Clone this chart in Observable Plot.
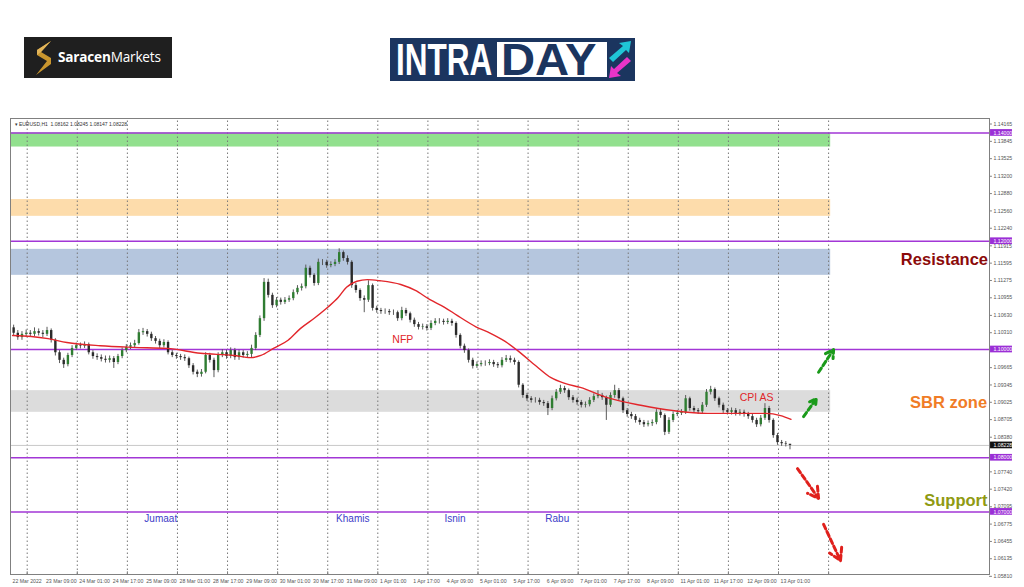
<!DOCTYPE html>
<html><head><meta charset="utf-8">
<script src="https://cdn.jsdelivr.net/npm/d3@7"></script>
<script src="https://cdn.jsdelivr.net/npm/@observablehq/plot@0.6"></script>
<style>
html,body{margin:0;padding:0;background:#fff;}
body{width:1024px;height:587px;overflow:hidden;position:relative;font-family:"DejaVu Sans",sans-serif;}
#sm{position:absolute;left:24px;top:37px;width:148px;height:41px;background:#1f1f1f;}
#sm .t{position:absolute;left:34px;top:11px;color:#fff;font-family:"Open Sans",sans-serif;font-size:13.6px;line-height:18px;white-space:nowrap;letter-spacing:-0.2px}
#sm b{font-weight:700}
#idb{position:absolute;left:390px;top:38px;width:245px;height:43px;background:#1b355f;}
#idb .a{position:absolute;left:6px;top:0px;width:100px;color:#fff;font-family:"Liberation Sans",sans-serif;font-weight:700;font-size:45px;line-height:44px;transform:scaleX(0.7);transform-origin:0 0;white-space:nowrap}
#idb .box{position:absolute;left:107px;top:4px;width:110px;height:35px;background:#fff;}
#idb .d{position:absolute;left:111px;top:0px;width:100px;color:#1b355f;font-family:"Liberation Sans",sans-serif;font-weight:700;font-size:45px;line-height:44px;transform:scaleX(1.05);transform-origin:0 0;white-space:nowrap}
#chart{position:absolute;left:0;top:110px;width:1024px;height:477px}
</style></head>
<body>
<div id="sm"><svg width="24" height="36" viewBox="0 0 24 36" style="position:absolute;left:8px;top:3px"><path d="M19 1 L5 10 L5 15 L15 21 L4 35 L19 24 L19 18 L9 12 Z" fill="#c9962e"/><path d="M19 1 L9 12 L5 15 L5 10 Z" fill="#e2b55a"/></svg><div class="t"><b>Saracen</b>Markets</div></div>
<div id="idb"><div class="a">INTRA</div><div class="box"></div><div class="d">DAY</div>
<svg width="30" height="43" viewBox="0 0 30 43" style="position:absolute;left:215px;top:0"><path d="M4 20 L18 8 L14 5 L26 3 L24 15 L21 12 L8 24 Z" fill="#1fc6d6"/><path d="M26 23 L12 35 L16 38 L4 40 L6 28 L9 31 L22 19 Z" fill="#e834c8"/></svg></div>
<div id="chart"></div>
<script>
// ---- data (EURUSD H1, two hourly bars per candle) ----
const firstOpen = 1.1040;
const closes = [1.1030,1.1022,1.1028,1.1030,1.1028,1.1033,1.1030,1.1028,1.1035,1.1017,1.0994,1.0980,1.0972,1.0989,1.1002,1.1007,1.1006,1.1009,1.0994,1.0987,1.0985,1.0982,1.0980,1.0983,1.0976,1.0987,1.0998,1.1004,1.1007,1.1011,1.1031,1.1033,1.1028,1.1020,1.1015,1.1007,1.1013,1.0994,1.0989,1.0987,1.0985,1.0983,1.0970,1.0958,1.0954,1.0958,1.0989,1.0980,1.0961,1.0989,1.0994,1.0987,1.0998,1.0985,1.0994,1.0989,1.0991,1.1002,1.1026,1.1057,1.1124,1.1100,1.1081,1.1091,1.1087,1.1091,1.1094,1.1105,1.1113,1.1116,1.1150,1.1137,1.1122,1.1161,1.1161,1.1155,1.1157,1.1161,1.1179,1.1168,1.1161,1.1118,1.1109,1.1094,1.1091,1.1118,1.1076,1.1072,1.1070,1.1070,1.1068,1.1068,1.1057,1.1072,1.1066,1.1054,1.1046,1.1041,1.1042,1.1039,1.1048,1.1052,1.1052,1.1050,1.1052,1.1048,1.1026,1.1006,1.0998,1.0980,1.0969,1.0972,1.0974,1.0974,1.0976,1.0972,1.0970,1.0980,1.0983,1.0980,1.0976,1.0934,1.0915,1.0909,1.0906,1.0906,1.0902,1.0900,1.0891,1.0909,1.0921,1.0928,1.0924,1.0911,1.0906,1.0902,1.0897,1.0898,1.0906,1.0913,1.0915,1.0911,1.0897,1.0915,1.0924,1.0909,1.0887,1.0880,1.0876,1.0869,1.0865,1.0861,1.0863,1.0865,1.0884,1.0878,1.0847,1.0869,1.0880,1.0882,1.0884,1.0909,1.0891,1.0887,1.0885,1.0897,1.0921,1.0926,1.0909,1.0897,1.0887,1.0884,1.0887,1.0882,1.0884,1.0880,1.0876,1.0869,1.0861,1.0873,1.0891,1.0869,1.0841,1.0828,1.0826,1.0825,1.08228];
const highs = [1.1045,1.1035,1.1033,1.1036,1.1035,1.1040,1.1038,1.1035,1.1041,1.1038,1.1020,1.0998,1.0984,1.0993,1.1007,1.1012,1.1012,1.1014,1.1012,1.0998,1.0992,1.0990,1.0988,1.0988,1.0987,1.0991,1.1003,1.1009,1.1012,1.1017,1.1037,1.1039,1.1037,1.1032,1.1024,1.1019,1.1018,1.1016,1.0998,1.0993,1.0991,1.0990,1.0986,1.0974,1.0962,1.0963,1.0994,1.0993,1.0984,1.0994,1.1000,1.0999,1.1003,1.1002,1.0999,1.0998,1.0996,1.1008,1.1031,1.1062,1.1131,1.1130,1.1104,1.1096,1.1095,1.1096,1.1099,1.1110,1.1118,1.1121,1.1156,1.1154,1.1140,1.1167,1.1166,1.1165,1.1162,1.1166,1.1186,1.1182,1.1173,1.1164,1.1122,1.1112,1.1099,1.1127,1.1121,1.1080,1.1076,1.1075,1.1074,1.1073,1.1071,1.1078,1.1076,1.1069,1.1058,1.1050,1.1047,1.1046,1.1053,1.1057,1.1057,1.1056,1.1057,1.1056,1.1051,1.1029,1.1010,1.1001,1.0984,1.0977,1.0979,1.0979,1.0981,1.0980,1.0976,1.0985,1.0989,1.0988,1.0984,1.0979,1.0937,1.0919,1.0913,1.0911,1.0910,1.0906,1.0904,1.0914,1.0926,1.0934,1.0932,1.0927,1.0915,1.0910,1.0906,1.0903,1.0911,1.0918,1.0924,1.0919,1.0914,1.0920,1.0934,1.0928,1.0912,1.0891,1.0884,1.0880,1.0873,1.0869,1.0868,1.0870,1.0889,1.0890,1.0881,1.0874,1.0885,1.0887,1.0889,1.0915,1.0912,1.0895,1.0891,1.0902,1.0926,1.0932,1.0929,1.0912,1.0901,1.0891,1.0892,1.0891,1.0889,1.0888,1.0884,1.0880,1.0873,1.0878,1.0900,1.0895,1.0872,1.0845,1.0832,1.0830,1.08245];
const lows = [1.1025,1.1017,1.1017,1.1023,1.1023,1.1024,1.1025,1.1022,1.1024,1.1012,1.0988,1.0974,1.0965,1.0968,1.0985,1.0998,1.1001,1.1002,1.0990,1.0982,1.0980,1.0977,1.0975,1.0975,1.0965,1.0972,1.0983,1.0994,1.1000,1.1002,1.1008,1.1026,1.1023,1.1015,1.1010,1.1002,1.1003,1.0990,1.0985,1.0982,1.0980,1.0978,1.0965,1.0953,1.0948,1.0949,1.0955,1.0975,1.0948,1.0957,1.0985,1.0982,1.0983,1.0980,1.0980,1.0984,1.0984,1.0985,1.0998,1.1022,1.1052,1.1095,1.1076,1.1077,1.1082,1.1083,1.1087,1.1090,1.1101,1.1108,1.1112,1.1132,1.1117,1.1118,1.1155,1.1150,1.1151,1.1153,1.1157,1.1163,1.1156,1.1113,1.1104,1.1089,1.1068,1.1087,1.1071,1.1067,1.1065,1.1065,1.1063,1.1063,1.1052,1.1053,1.1061,1.1049,1.1041,1.1036,1.1036,1.1034,1.1035,1.1044,1.1047,1.1045,1.1046,1.1043,1.1021,1.1001,1.0993,1.0975,1.0964,1.0965,1.0968,1.0969,1.0970,1.0967,1.0965,1.0966,1.0976,1.0975,1.0971,1.0929,1.0910,1.0904,1.0901,1.0901,1.0897,1.0895,1.0878,1.0887,1.0905,1.0917,1.0919,1.0906,1.0901,1.0897,1.0892,1.0892,1.0894,1.0902,1.0909,1.0906,1.0869,1.0893,1.0910,1.0904,1.0882,1.0875,1.0871,1.0864,1.0860,1.0856,1.0857,1.0858,1.0861,1.0873,1.0841,1.0843,1.0865,1.0876,1.0878,1.0880,1.0886,1.0882,1.0880,1.0881,1.0893,1.0916,1.0904,1.0892,1.0882,1.0879,1.0879,1.0877,1.0877,1.0875,1.0871,1.0864,1.0856,1.0857,1.0869,1.0864,1.0836,1.0823,1.0821,1.0820,1.08147];
// 50-period moving average read at bar positions
const maBar = [0,9,17,26,42,58,74,90,106,114,119,125,132,138,145,151,156,160,165,170,176,186,193,200,207,213,222,229,236,242,251,258,265,272,285,301,317,333,349,361,368,373];
const maVal = [1.1026,1.1024,1.1020,1.1013,1.1007,1.1004,1.1002,1.0993,1.0989,1.0985,1.0989,1.1002,1.1017,1.1039,1.1059,1.1078,1.1096,1.1115,1.1126,1.1129,1.1127,1.1120,1.1109,1.1092,1.1078,1.1063,1.1042,1.1030,1.1015,1.0998,1.0969,1.0948,1.0937,1.0930,1.0911,1.0897,1.0887,1.0882,1.0882,1.0882,1.0878,1.0871];
// x-axis labels every 16 bars
const xLabels = ["22 Mar 2022","23 Mar 09:00","24 Mar 01:00","24 Mar 17:00","25 Mar 09:00","28 Mar 01:00","28 Mar 17:00","29 Mar 09:00","30 Mar 01:00","30 Mar 17:00","31 Mar 09:00","1 Apr 01:00","1 Apr 17:00","4 Apr 09:00","5 Apr 01:00","5 Apr 17:00","6 Apr 09:00","7 Apr 01:00","7 Apr 17:00","8 Apr 09:00","11 Apr 01:00","11 Apr 17:00","12 Apr 09:00","13 Apr 01:00"];
const yTicks = [1.14165,1.13845,1.13525,1.13200,1.12880,1.12560,1.12240,1.11915,1.11595,1.11275,1.10955,1.10630,1.10310,1.09665,1.09345,1.09025,1.08705,1.08380,1.07740,1.07420,1.07095,1.06775,1.06455,1.06135,1.05810];
const levels = [1.14000,1.12000,1.10000,1.08000,1.07000];
const lastPrice = 1.08228;
const zoneName = ["green","orange","resistance","sbr"];
const zoneTop = [1.1400,1.1277,1.1185,1.0924];
const zoneBot = [1.1374,1.1246,1.1137,1.0884];
const zoneFill = ["#92e08e","#fddcab","#b5c6de","#dcdcdc"];
const zoneEndBar = 392;
const gridBars = [7,31,55,79,103,127,151,175,199,223,247,271,295,319,343,367,391];
const labelText = ["Resistance","SBR zone","Support"];
const labelBar = [446.5,448.5,452];
const labelPrice = [1.1166,1.0902,1.0721];
const labelColor = ["#8b0a0a","#f07c26","#8f9a12"];
const noteText = ["NFP","CPI AS"];
const noteBar = [187,356.5];
const notePrice = [1.1018,1.0911];
const dayText = ["Jumaat","Khamis","Isnin","Rabu"];
const dayBar = [71,163,212,261];
const dayPrice = 1.0688;
const arrowX1 = [379,386.2,376.1,388.6], arrowY1 = [1.0876,1.0958,1.0780,1.0677];
const arrowX2 = [385.1,393.4,386.2,396.7], arrowY2 = [1.0909,1.1000,1.0725,1.0610];
const arrowColor = ["#1a9a1a","#1a9a1a","#e0201c","#e0201c"];

// ---- build tables ----
const candles = closes.map((c,k)=>({i:2*k+0.5, o:k?closes[k-1]:firstOpen, c, h:highs[k], l:lows[k]}));
const ma = maBar.map((b,j)=>({b, v:maVal[j]}));
const zones = zoneName.map((n,j)=>({n, y1:zoneBot[j], y2:zoneTop[j], fill:zoneFill[j]}));
const xTickBars = xLabels.map((_,j)=>16*j);
const X0 = -1, X1 = 468.1, Y0 = 1.05844, Y1 = 1.14267;
const labelRows = labelText.map((t,j)=>({t, b:labelBar[j], p:labelPrice[j], c:labelColor[j]}));
const noteRows = noteText.map((t,j)=>({t, b:noteBar[j], p:notePrice[j]}));
const dayRows = dayText.map((t,j)=>({t, b:dayBar[j], p:dayPrice}));
const arrowRows = arrowX1.map((x,j)=>({x1:x, y1:arrowY1[j], x2:arrowX2[j], y2:arrowY2[j], c:arrowColor[j]}));
const boxW = 11, boxH = 0.00062;
const axisFont = "Liberation Sans, Arial, sans-serif";

const plotSvg = Plot.plot({
  width:1024, height:477,
  marginTop:8, marginBottom:13, marginLeft:10, marginRight:35,
  style:{background:"transparent", overflow:"visible"},
  x:{type:"linear", domain:[X0,X1], axis:null},
  y:{type:"linear", domain:[Y0,Y1], axis:null},
  marks:[
    Plot.rect(zones,{x1:X0,x2:zoneEndBar,y1:"y1",y2:"y2",fill:"fill"}),
    Plot.ruleX(gridBars,{y1:Y0,y2:Y1,stroke:"#777",strokeDasharray:"1.5,2.5",strokeWidth:1}),
    Plot.ruleY(levels,{x1:X0,x2:X1,stroke:"#a236d6",strokeWidth:1.5}),
    Plot.ruleY([lastPrice],{x1:X0,x2:X1,stroke:"#c8c8c8",strokeWidth:1}),
    Plot.ruleX(candles,{x:"i",y1:"l",y2:"h",stroke:"#5a5a5a",strokeWidth:1}),
    Plot.ruleX(candles,{x:"i",y1:"o",y2:"c",stroke:d=>d.c>=d.o?"#2f7d32":"#2b2b2b",strokeWidth:2.4}),
    Plot.line(ma,{x:"b",y:"v",stroke:"#e2262b",strokeWidth:1.4,curve:"monotone-x"}),
    Plot.frame({stroke:"#808080",strokeWidth:1}),
    // right axis
    Plot.ruleY(yTicks,{x1:X1,x2:X1+1.4,stroke:"#808080"}),
    Plot.text(yTicks,{x:X1,y:d=>d,text:d=>d.toFixed(5),dx:4,textAnchor:"start",fontSize:5.2,fontFamily:axisFont,fill:"#555"}),
    Plot.rect(levels,{x1:X1+0.5,x2:X1+boxW,y1:d=>d-boxH,y2:d=>d+boxH,fill:"#9b2fd6"}),
    Plot.text(levels,{x:X1,y:d=>d,text:d=>d.toFixed(5),dx:4,textAnchor:"start",fontSize:5.2,fontFamily:axisFont,fill:"#fff"}),
    Plot.rect([lastPrice],{x1:X1+0.5,x2:X1+boxW,y1:d=>d-boxH,y2:d=>d+boxH,fill:"#111"}),
    Plot.text([lastPrice],{x:X1,y:d=>d,text:d=>d.toFixed(5),dx:4,textAnchor:"start",fontSize:5.2,fontFamily:axisFont,fill:"#fff"}),
    // bottom axis
    Plot.text(xTickBars,{x:d=>d,y:Y0,text:(d,j)=>xLabels[j],dy:7,textAnchor:"start",fontSize:5.2,fontFamily:axisFont,fill:"#555"}),
    Plot.ruleX(gridBars,{y1:Y0,y2:Y0+0.0005,stroke:"#808080"}),
    // annotations
    Plot.text(["\u25BE EURUSD,H1  1.08162 1.08245 1.08147 1.08228"],{x:X0,y:Y1,dx:4,dy:6,textAnchor:"start",fontSize:5,fontFamily:axisFont,fill:"#333"}),
    Plot.text(labelRows,{x:"b",y:"p",text:"t",fill:"c",fontSize:16.5,fontWeight:"bold",fontFamily:"Liberation Sans, sans-serif"}),
    Plot.text(noteRows,{x:"b",y:"p",text:"t",fill:"#e0262a",fontSize:10.5,fontFamily:"Liberation Sans, sans-serif"}),
    Plot.text(dayRows,{x:"b",y:"p",text:"t",fill:"#3d3dc8",fontSize:10,fontFamily:"Liberation Sans, sans-serif"}),
    Plot.arrow(arrowRows,{x1:"x1",y1:"y1",x2:"x2",y2:"y2",stroke:"c",strokeWidth:3,strokeDasharray:"5,3",headLength:9})
  ]
});
document.getElementById("chart").appendChild(plotSvg);
</script>
</body></html>
